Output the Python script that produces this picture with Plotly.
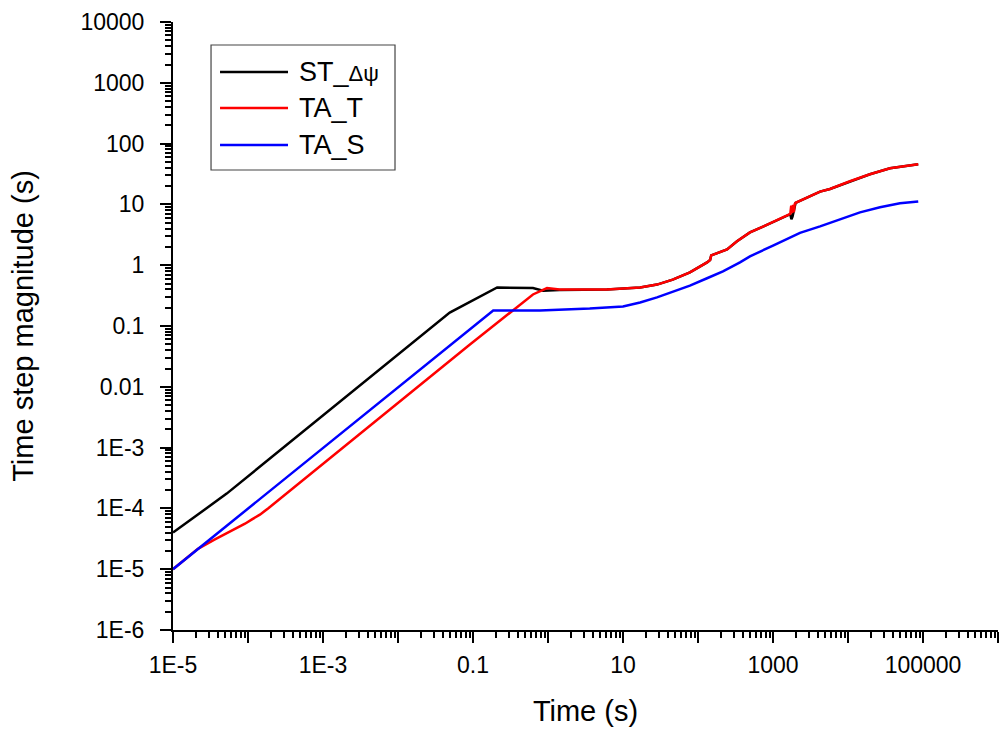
import plotly.graph_objects as go

# ---- data ----
st_t = [1e-5, 5.2e-5, 0.049, 0.21, 0.63, 0.86, 1.43, 6.1, 16.9, 28.4, 46, 78, 132,
        145, 150, 244, 331, 493, 736, 1240, 1700, 1760, 1820, 2000, 4240, 5750,
        10600, 19600, 36300, 67100, 86400]
st_y = [4e-5, 1.75e-4, 0.166, 0.43, 0.42, 0.38, 0.39, 0.40, 0.43, 0.48, 0.58, 0.76, 1.11,
        1.22, 1.45, 1.82, 2.47, 3.47, 4.31, 5.89, 6.9, 5.7, 6.3, 10.6, 16.2, 17.9,
        24, 31.3, 39.4, 44, 45.8]

tat_t = [1e-5, 2.15e-5, 3.52e-5, 5.75e-5, 9.12e-5, 1.13e-4, 1.44e-4, 1.85e-4, 0.091,
         0.63, 0.97, 1.43, 6.1, 16.9, 28.4, 46, 78, 132, 145, 150, 244, 331, 493, 736,
         1240, 1700, 1750, 1800, 1850, 1900, 1950, 2000, 4240, 5750, 10600, 19600,
         36300, 67100, 86400]
tat_y = [1e-5, 2.16e-5, 3.04e-5, 4.1e-5, 5.6e-5, 6.6e-5, 7.9e-5, 1.0e-4, 0.0496,
         0.33, 0.42, 0.40, 0.40, 0.43, 0.48, 0.58, 0.76, 1.11, 1.22, 1.45, 1.82, 2.47,
         3.47, 4.31, 5.89, 7.0, 9.5, 7.2, 9.8, 7.5, 10.2, 10.6, 16.2, 17.9, 24, 31.3,
         39.4, 44, 45.8]

tas_t = [1e-5, 0.186, 0.78, 3.6, 10, 16.9, 28.4, 46, 78, 132, 215, 363, 493, 1000,
         2290, 4240, 7820, 14450, 26700, 49300, 86400]
tas_y = [1e-5, 0.18, 0.18, 0.194, 0.21, 0.244, 0.295, 0.37, 0.46, 0.61, 0.79, 1.11, 1.40,
         2.1, 3.4, 4.35, 5.7, 7.4, 8.96, 10.4, 11.2]

series_names = ["ST_<span style='font-size:22px'>Δψ</span>", "TA_T", "TA_S"]
series_colors = ["#000000", "#ff0000", "#0000ff"]

x_tickvals = [1e-5, 1e-4, 1e-3, 1e-2, 0.1, 1, 10, 100, 1000, 1e4, 1e5, 1e6]
x_ticktext = ["1E-5", "", "1E-3", "", "0.1", "", "10", "", "1000", "", "100000", ""]
y_tickvals = [1e-6, 1e-5, 1e-4, 1e-3, 1e-2, 0.1, 1, 10, 100, 1000, 1e4]
y_ticktext = ["1E-6", "1E-5", "1E-4", "1E-3", "0.01", "0.1", "1", "10", "100", "1000", "10000"]

x_minor = [k * 10.0 ** d for d in range(-5, 6) for k in range(2, 10)]
y_minor = [k * 10.0 ** d for d in range(-6, 4) for k in range(2, 10)]

FONT = "Liberation Sans, Arial, sans-serif"

fig = go.Figure()
for tx, ty, nm, col in zip([st_t, tat_t, tas_t], [st_y, tat_y, tas_y],
                           series_names, series_colors):
    fig.add_trace(go.Scatter(x=tx, y=ty, mode="lines", name=nm, showlegend=False,
                             line=dict(color=col, width=2.5)))

axis_common = dict(
    type="log", showgrid=False, zeroline=False, showline=True, linecolor="black",
    linewidth=2, ticks="outside", ticklen=11, tickwidth=2, tickcolor="black",
    tickmode="array", tickfont=dict(family=FONT, size=23, color="black"),
)

fig.update_xaxes(**axis_common, range=[-5, 6], tickvals=x_tickvals, ticktext=x_ticktext,
                 ticklabelstandoff=2,
                 minor=dict(tickmode="array", tickvals=x_minor, ticks="outside",
                            ticklen=6, tickwidth=1.5, tickcolor="black"),
                 title=dict(text="Time (s)", font=dict(family=FONT, size=29, color="black"),
                            standoff=24))
fig.update_yaxes(**axis_common, range=[-6, 4], tickvals=y_tickvals, ticktext=y_ticktext,
                 ticklabelstandoff=11,
                 minor=dict(tickmode="array", tickvals=y_minor, ticks="outside",
                            ticklen=6, tickwidth=1.5, tickcolor="black"),
                 title=dict(text="Time step magnitude (s)",
                            font=dict(family=FONT, size=29, color="black"), standoff=38))

# ---- legend box drawn in paper coordinates ----
shapes = [dict(type="rect", xref="paper", yref="paper", x0=0.0461, x1=0.2691,
               y0=0.7566, y1=0.9622, line=dict(color="#444444", width=1.2),
               fillcolor="white", layer="above")]
annotations = []
row_y = [0.9178, 0.8586, 0.7977]
for nm, col, yy in zip(series_names, series_colors, row_y):
    shapes.append(dict(type="line", xref="paper", yref="paper", x0=0.0570, x1=0.1394,
                       y0=yy, y1=yy, line=dict(color=col, width=2.5), layer="above"))
    annotations.append(dict(xref="paper", yref="paper", x=0.1503, y=yy, text=nm,
                            showarrow=False, xanchor="left", yanchor="middle",
                            font=dict(family=FONT, size=27, color="black")))

fig.update_layout(
    width=1001, height=731,
    margin=dict(l=173, r=3, t=22, b=101),
    paper_bgcolor="white", plot_bgcolor="white",
    font=dict(family=FONT, color="black"),
    shapes=shapes, annotations=annotations, showlegend=False,
)

fig.write_html("out.html")
